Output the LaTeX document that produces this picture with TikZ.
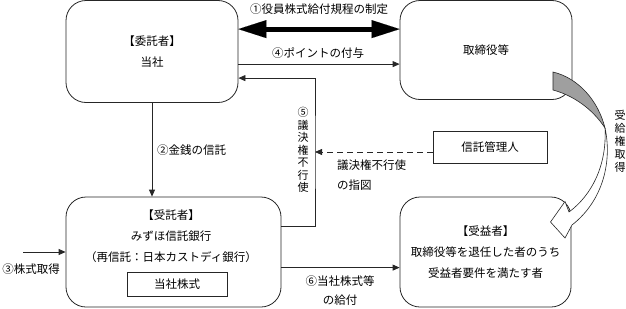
\documentclass[tikz,border=0pt]{standalone}
\usepackage{fontspec}
\setmainfont{Noto Sans CJK JP}
\usetikzlibrary{
  arrows.meta
}
\tikzset{
  party/.style={
    draw=black!85,
    line width=0.8pt,
    rounded corners=20pt,
    align=center,
    inner sep=0pt,
    font=\fontsize{11.5}{21}\selectfont
  },
  plainbox/.style={party, rounded corners=0pt},
  note/.style={inner sep=0pt, align=center, font=\fontsize{11.5}{19}\selectfont},
  vnote/.style={inner sep=0pt, align=center, font=\fontsize{11}{12.5}\selectfont},
  arrow/.style={-{Triangle[length=7pt, width=6pt]}, line width=0.8pt, draw=black!85},
  dashedarrow/.style={arrow, dash pattern=on 6pt off 4pt},
  bigarrow/.style={
    {Triangle[length=28pt, width=18pt, line width=0.01pt]}-{Triangle[length=28pt, width=18pt, line width=0.01pt]},
    line width=5pt
  },
  curvearrow/.style={draw=black!85, line width=0.6pt}
}
\begin{document}
\begin{tikzpicture}[x=1pt, y=-1pt]
  \useasboundingbox (0,0) rectangle (626,308);

  \node[party, minimum width=172pt, minimum height=102pt] (client) at (152,51.5) {【委託者】\\当社};
  \node[party, minimum width=172pt, minimum height=99pt] (officer) at (486,50) {取締役等};
  \node[party, minimum width=215pt, minimum height=110pt] (trustee) at (173.5,252) {};
  \node[note, font=\fontsize{11.5}{21}\selectfont] (trustname) at (171,236)
    {【受託者】\\みずほ信託銀行\\（再信託：日本カストディ銀行）};
  \node[plainbox, minimum width=100pt, minimum height=24pt] (stock) at (177,284) {当社株式};
  \node[party, minimum width=171pt, minimum height=110pt] (beneficiary) at (485.5,252)
    {【受益者】\\取締役等を退任した者のうち\\受益者要件を満たす者};
  \node[plainbox, minimum width=114pt, minimum height=32pt] (manager) at (490,147) {信託管理人};

  \draw[bigarrow] ([yshift=-29pt]client.north east) -- ([yshift=-29pt]officer.north west);
  \node[note] (rulenote) at (319,9) {①役員株式給付規程の制定};

  \draw[arrow] ([yshift=-64pt]client.north east) -- ([yshift=-64pt]officer.north west);
  \node[note] (pointnote) at (318,53) {④ポイントの付与};

  \draw[arrow] (client.south) -- (client.south |- trustee.north);
  \node[note, anchor=west] (moneynote) at (157,150) {②金銭の信託};

  \coordinate (buy) at (23,252);
  \draw[arrow] (buy) -- (buy -| trustee.west);
  \node[note] (buynote) at (31,269) {③株式取得};

  \coordinate (vote) at (315,152);
  \draw[arrow] ([yshift=-30pt]trustee.north east) -| (vote) |- ([yshift=-78pt]client.north east);
  \node[vnote] (votenote) at (303,150) {⑤\\議\\決\\権\\不\\行\\使};
  \draw[dashedarrow] (manager.west |- vote) -- (vote);
  \node[note, align=left, anchor=west, font=\fontsize{11.5}{20}\selectfont] (instructnote) at (337,175)
    {議決権不行使\\の指図};

  \coordinate (give) at ([yshift=-71pt]trustee.north east);
  \draw[arrow] (give) -- (give -| beneficiary.west);
  \node[note] (givenote) at (340,291) {⑥当社株式等\\の給付};

  % curved arrow from officer to beneficiary
  \filldraw[curvearrow, fill=gray!75] (553,72) .. controls (578,78) and (598,100) .. (605,128)
    .. controls (592,108) and (572,95) .. (553,90) -- cycle;
  \filldraw[curvearrow, fill=white] (605,128) .. controls (612,160) and (604,200) .. (572,225)
    -- (565,238) -- (550.5,222) -- (565,201.5) -- (569,212)
    .. controls (592,195) and (607,165) .. (605,128) -- cycle;
  \node[vnote, font=\fontsize{11}{13}\selectfont] (rightsnote) at (620,141) {受\\給\\権\\取\\得};
\end{tikzpicture}
\end{document}
